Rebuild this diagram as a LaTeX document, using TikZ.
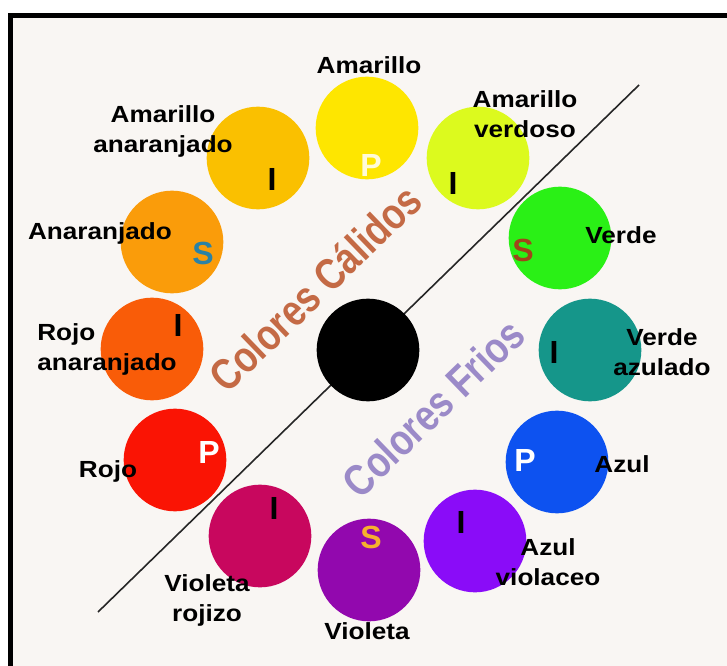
\documentclass[tikz,border=0pt]{standalone}
\usepackage{fontspec}
\setmainfont{Liberation Sans}
\newfontfamily\rotfont[FakeStretch=1.12]{Liberation Sans}
\newfontfamily\zonafont[FakeStretch=0.82]{Liberation Sans}
\usetikzlibrary{positioning}

\definecolor{fondo}{HTML}{F9F6F3}
\definecolor{cAm}{HTML}{FEE600}
\definecolor{cAmn}{HTML}{FAC000}
\definecolor{cAmv}{HTML}{DCFA1E}
\definecolor{cNar}{HTML}{FA9C0A}
\definecolor{cRn}{HTML}{F95C08}
\definecolor{cRo}{HTML}{FA1404}
\definecolor{cVe}{HTML}{2AF016}
\definecolor{cVea}{HTML}{15968A}
\definecolor{cAz}{HTML}{0D52F0}
\definecolor{cAzv}{HTML}{8A0CF8}
\definecolor{cVi}{HTML}{9208AE}
\definecolor{cVir}{HTML}{C8075E}
\definecolor{calido}{HTML}{C46A45}
\definecolor{frio}{HTML}{9B8AC8}
\definecolor{sAzul}{HTML}{2A82A6}
\definecolor{sCafe}{HTML}{A0451A}
\definecolor{sOro}{HTML}{F6B02E}

\begin{document}
\begin{tikzpicture}[
  x=0.75pt, y=-0.75pt,
  disco/.style={circle, inner sep=0pt, minimum size=77pt},
  rotulo/.style={font=\rotfont\fontsize{17.5}{22.5}\selectfont\bfseries,
                 align=center, inner sep=0pt},
  letra/.style={font=\fontsize{24}{24}\selectfont\bfseries, inner sep=0pt},
  zona/.style={font=\zonafont\fontsize{33}{33}\selectfont\bfseries,
               rotate=44, inner sep=0pt},
  divisor/.style={line width=1.2pt, black!85},
]
\useasboundingbox (0,0) rectangle (727,666);
\fill[white] (0,0) rectangle (727,666);
\fill[fondo] (8,13) rectangle (727,666);
\fill[black] (8,13) rectangle (13,666);
\fill[black] (8,13) rectangle (727,18);

% linea entre calidos y frios
\coordinate (lA) at (98,612);
\coordinate (lB) at (639,85);
\draw[divisor] (lA) -- (lB);

% circulo cromatico
\node[disco, fill=black] (centro) at (368,350) {};
\node[disco, fill=cAm]  (am)  at (367,128) {};
\node[disco, fill=cAmv] (amv) at (478,158) {};
\node[disco, fill=cVe]  (ve)  at (560,238) {};
\node[disco, fill=cVea] (vea) at (590,350) {};
\node[disco, fill=cAz]  (az)  at (557,462) {};
\node[disco, fill=cAzv] (azv) at (475,541) {};
\node[disco, fill=cVi]  (vi)  at (369,570) {};
\node[disco, fill=cVir] (vir) at (260,536) {};
\node[disco, fill=cRo]  (ro)  at (175,460) {};
\node[disco, fill=cRn]  (rn)  at (152,349) {};
\node[disco, fill=cNar] (nar) at (172,242) {};
\node[disco, fill=cAmn] (amn) at (258,158) {};

% primarios, secundarios, intermedios
\node[letra, text=cAm!15!white] (pAm) at (371,165) {P};
\node[letra] (iAmv) at (453,183) {I};
\node[letra, text=sCafe] (sVe) at (523,250) {S};
\node[letra] (iVea) at (554,352) {I};
\node[letra, text=white] (pAz) at (525,460) {P};
\node[letra] (iAzv) at (461,522) {I};
\node[letra, text=sOro] (sVi) at (371,537) {S};
\node[letra] (iVir) at (274,508) {I};
\node[letra, text=white] (pRo) at (209,452) {P};
\node[letra] (iRn) at (178,325) {I};
\node[letra, text=sAzul] (sNar) at (203,253) {S};
\node[letra] (iAmn) at (272,179) {I};

% nombres
\node[rotulo] (tAm)  at (369,65)  {Amarillo};
\node[rotulo] (tAmv) at (525,114) {Amarillo\\verdoso};
\node[rotulo] (tVe)  at (621,235) {Verde};
\node[rotulo] (tVea) at (662,352) {Verde\\azulado};
\node[rotulo] (tAz)  at (622,464) {Azul};
\node[rotulo] (tAzv) at (548,562) {Azul\\violaceo};
\node[rotulo] (tVi)  at (367,631) {Violeta};
\node[rotulo] (tVir) at (207,600) {Violeta\\rojizo};
\node[rotulo] (tRo)  at (108,471) {Rojo};
\node[rotulo, align=left, anchor=west] (tRn) at (37,349) {Rojo\\anaranjado};
\node[rotulo] (tNar) at (100,233) {Anaranjado};
\node[rotulo] (tAmn) at (163,131) {Amarillo\\anaranjado};

% zonas
\node[zona, text=calido] (zCal) at (315,288) {Colores Cálidos};
\node[zona, text=frio]   (zFri) at (433,408) {Colores Frios};
\end{tikzpicture}
\end{document}
